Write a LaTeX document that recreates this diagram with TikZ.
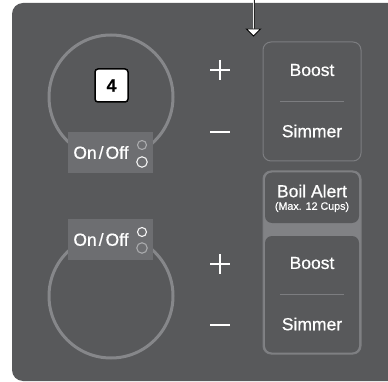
\documentclass[tikz,border=0pt]{standalone}
\usepackage{fontspec}
\setmainfont[FakeBold=0.6]{Liberation Sans}
\newfontfamily\keyfont[FakeBold=0.6]{Liberation Sans}
\usetikzlibrary{arrows.meta,positioning,calc}
\definecolor{panel}{HTML}{58595B}
\definecolor{ringgray}{HTML}{86878A}
\definecolor{tabgray}{HTML}{6D6E71}
\definecolor{edgegray}{HTML}{7C7D80}
\definecolor{bandgray}{HTML}{818285}

\begin{document}
\begin{tikzpicture}[
			x=1pt, y=-1pt,
			every node/.style={inner sep=0pt, text=white, font=\keyfont\fontsize{17.5}{18}\selectfont},
			ring/.style={draw=ringgray, line width=3pt},
			tab/.style={fill=tabgray, minimum width=85pt, minimum height=41pt},
			lamp/.style={circle, draw=#1, line width=1.1pt, minimum size=9pt},
			btn/.style={draw=edgegray, line width=1pt, rounded corners=8pt, minimum width=98pt},
			inbtn/.style={fill=panel, rounded corners=7pt, minimum width=94pt},
			sign/.style={white, line width=1.6pt},
			divider/.style={draw=edgegray, line width=0.8pt}
		]

		\useasboundingbox (0,0) rectangle (388,382);
		\clip (0,0) rectangle (388,382);

		% panel
		\fill[panel, rounded corners=11pt] (12,3) rectangle (420,381);

		% upper zone
		\node[circle, ring, minimum size=124pt] (zone1) at (111,97) {};
		\node[fill=white, draw=black, line width=1.5pt, rounded corners=3pt,
			minimum size=33pt, text=black, font=\fontsize{17.5}{18}\selectfont\bfseries] (level) at (111.5,85.5) {4};
		\node[tab] (tab1) at (110.5,152.5) {};
		\node (onoff1) at (101,152.5) {On\kern2pt/\kern2pt Off};
		\node[lamp=ringgray!70!white] (lampa1) at (142,145) {};
		\node[lamp=white!92!gray, minimum size=10.5pt] (lampb1) at (142,162) {};

		% lower zone
		\node[circle, ring, minimum size=124pt] (zone2) at (111,296) {};
		\node[tab] (tab2) at (110.5,239.5) {};
		\node (onoff2) at (101,239.5) {On\kern2pt/\kern2pt Off};
		\node[lamp=white!92!gray] (lampa2) at (142,232) {};
		\node[lamp=ringgray!70!white, minimum size=10.5pt] (lampb2) at (142,248) {};

		% plus / minus
		\draw[sign] (210,70) -- (230,70) (220,60) -- (220,80);
		\draw[sign] (210,132) -- (230,132);
		\draw[sign] (210,264) -- (230,264) (220,254) -- (220,274);
		\draw[sign] (210,325) -- (230,325);

		% upper buttons
		\node[btn, minimum height=119pt] (keys1) at (312,101.5) {};
		\node (boost1) at (312,70) {Boost};
		\node (simmer1) at (312,131) {Simmer};
		\draw[divider] (280,101) -- (344,101);

		% lower buttons
		\node[btn, fill=bandgray, minimum height=183pt] (keys2) at (312,262.5) {};
		\node[inbtn, minimum height=50.5pt] (boilkey) at (312,197.75) {};
		\node[inbtn, minimum height=116.5pt] (levelkey) at (312,294.25) {};
		\node (boil) at (312,191) {Boil Alert};
		\node[font=\keyfont\fontsize{10.7}{11}\selectfont] (cups) at (312,207) {(Max. 12 Cups)};
		\node (boost2) at (312,263) {Boost};
		\node (simmer2) at (312,324) {Simmer};
		\draw[divider] (280,294) -- (344,294);

		% pointer
		\coordinate (ptop) at (253.5,0);
		\coordinate (pbase) at (253.5,29);
		\coordinate (ptip) at (253.5,36);
		\draw[draw=black!85, line width=0.6pt, double=white!85!gray, double distance=0.8pt] (ptop) -- (pbase);
		\draw[black, fill=white, line width=0.9pt, line join=miter]
			($(pbase)+(-7,0)$) -- (ptip) -- ($(pbase)+(7,0)$) -- cycle;

	\end{tikzpicture}
\end{document}
